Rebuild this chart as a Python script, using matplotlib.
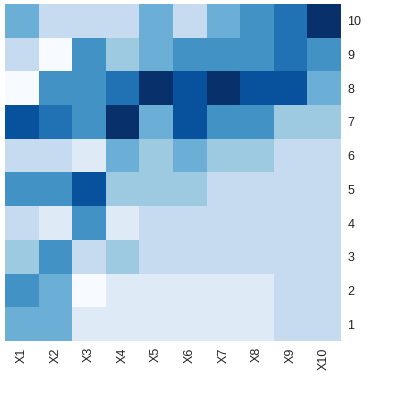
import matplotlib
matplotlib.use("Agg")
import matplotlib.pyplot as plt
from matplotlib.colors import ListedColormap, BoundaryNorm
import numpy as np

# Blues palette levels (ColorBrewer, 9 classes)
palette = ["#f7fbff", "#deebf7", "#c6dbef", "#9ecae1", "#6baed6",
           "#4292c6", "#2171b5", "#08519c", "#08306b"]

x_labels = ["X1", "X2", "X3", "X4", "X5", "X6", "X7", "X8", "X9", "X10"]
y_labels = ["1", "2", "3", "4", "5", "6", "7", "8", "9", "10"]

# colour level per cell, one list per row (row 1 at the bottom)
row1 = [4, 4, 1, 1, 1, 1, 1, 1, 2, 2]
row2 = [5, 4, 0, 1, 1, 1, 1, 1, 2, 2]
row3 = [3, 5, 2, 3, 2, 2, 2, 2, 2, 2]
row4 = [2, 1, 5, 1, 2, 2, 2, 2, 2, 2]
row5 = [5, 5, 7, 3, 3, 3, 2, 2, 2, 2]
row6 = [2, 2, 1, 4, 3, 4, 3, 3, 2, 2]
row7 = [7, 6, 5, 8, 4, 7, 5, 5, 3, 3]
row8 = [0, 5, 5, 6, 8, 7, 8, 7, 7, 4]
row9 = [2, 0, 5, 3, 4, 5, 5, 5, 6, 5]
row10 = [4, 2, 2, 2, 4, 2, 4, 5, 6, 8]

grid = np.array([row1, row2, row3, row4, row5, row6, row7, row8, row9, row10])

plt.rcParams["font.family"] = ["Liberation Sans", "DejaVu Sans"]

fig = plt.figure(figsize=(4.0, 3.99), dpi=100)
ax = fig.add_axes([0.0125, 0.1454, 0.84, 0.8446])

cmap = ListedColormap(palette)
norm = BoundaryNorm(np.arange(-0.5, len(palette) + 0.5), cmap.N)
ax.pcolormesh(np.arange(len(x_labels) + 1), np.arange(len(y_labels) + 1), grid,
              cmap=cmap, norm=norm, edgecolors="none", antialiased=False)

ax.set_xlim(0, len(x_labels))
ax.set_ylim(0, len(y_labels))
ax.set_xticks(np.arange(len(x_labels)) + 0.5)
ax.set_xticklabels(x_labels, rotation=90)
ax.set_yticks(np.arange(len(y_labels)) + 0.5)
ax.set_yticklabels(y_labels)
ax.yaxis.tick_right()
ax.tick_params(length=0, labelsize=9, colors="#222222", pad=4.5)
for s in ax.spines.values():
    s.set_visible(False)

fig.savefig("out.png", dpi=100)
